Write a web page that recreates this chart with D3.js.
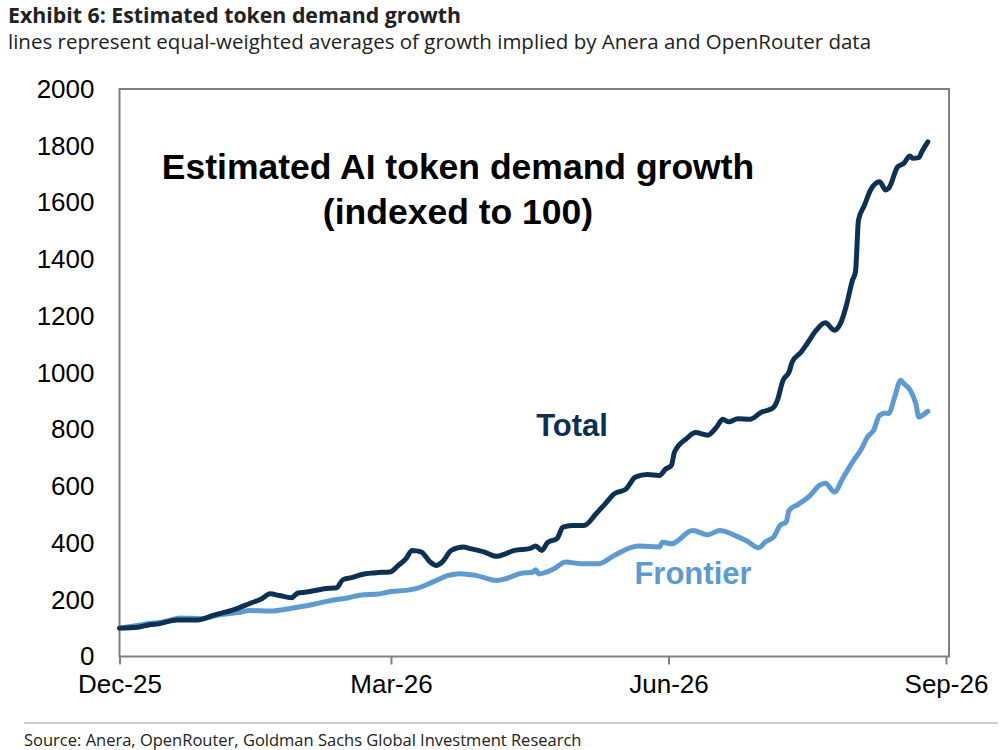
<!DOCTYPE html>
<html>
<head>
<meta charset="utf-8">
<script src="https://cdn.jsdelivr.net/npm/d3@7"></script>
<style>
  html, body { margin: 0; padding: 0; background: #fff; }
  svg { display: block; }
</style>
</head>
<body>
<svg id="chart" width="1008" height="750"></svg>
<script>
// Estimated token demand growth: two indexed lines (Total, Frontier)

const totalDates = [
  "2025-12-01","2025-12-07","2025-12-11","2025-12-14","2025-12-20","2025-12-27",
  "2026-01-01","2026-01-08","2026-01-13","2026-01-17","2026-01-20","2026-01-23","2026-01-27","2026-01-29",
  "2026-02-01","2026-02-07","2026-02-11","2026-02-13","2026-02-16","2026-02-19","2026-02-24",
  "2026-03-01","2026-03-03","2026-03-06","2026-03-08","2026-03-11","2026-03-14","2026-03-16","2026-03-18",
  "2026-03-21","2026-03-25","2026-03-27",
  "2026-04-01","2026-04-05","2026-04-08","2026-04-11","2026-04-16","2026-04-18","2026-04-20","2026-04-22",
  "2026-04-25","2026-04-27","2026-04-30",
  "2026-05-04","2026-05-08","2026-05-11","2026-05-14","2026-05-18","2026-05-21","2026-05-25","2026-05-29","2026-05-31",
  "2026-06-02","2026-06-03","2026-06-07","2026-06-10","2026-06-14","2026-06-17","2026-06-19","2026-06-21",
  "2026-06-24","2026-06-28",
  "2026-07-02","2026-07-04","2026-07-06","2026-07-07","2026-07-09","2026-07-11","2026-07-12","2026-07-15",
  "2026-07-17","2026-07-20","2026-07-23","2026-07-26","2026-07-28","2026-07-30",
  "2026-08-01","2026-08-02","2026-08-03","2026-08-05","2026-08-07","2026-08-10","2026-08-12","2026-08-13",
  "2026-08-16","2026-08-18","2026-08-20","2026-08-21","2026-08-23","2026-08-24","2026-08-26"
];
const totalValues = [
  100, 103, 112, 115, 129, 129,
  145, 165, 186, 203, 221, 215, 207, 223,
  227, 239, 242, 270, 278, 288, 295,
  299, 317, 345, 374, 369, 333, 321, 333,
  374, 386, 381,
  368, 353, 362, 374, 380, 389, 374, 403,
  415, 456, 462,
  462, 503, 538, 573, 591, 632, 641, 638, 660,
  674, 721, 768, 789, 780, 809, 836, 827,
  838, 836,
  862, 868, 880, 900, 974, 1003, 1038, 1073,
  1103, 1150, 1176, 1150, 1173, 1238,
  1326, 1356, 1538, 1591, 1644, 1673, 1644, 1650,
  1726, 1738, 1764, 1756, 1758, 1779, 1814
];

const frontierDates = [
  "2025-12-01","2025-12-09","2025-12-17","2025-12-21","2025-12-28",
  "2026-01-03","2026-01-10","2026-01-13","2026-01-20","2026-01-27",
  "2026-02-03","2026-02-08","2026-02-15","2026-02-20","2026-02-24",
  "2026-03-01","2026-03-06","2026-03-11","2026-03-13","2026-03-16","2026-03-20","2026-03-24","2026-03-29",
  "2026-04-05","2026-04-08","2026-04-13","2026-04-17","2026-04-18","2026-04-19","2026-04-24","2026-04-28",
  "2026-05-03","2026-05-09","2026-05-14","2026-05-22","2026-05-29","2026-05-30",
  "2026-06-02","2026-06-09","2026-06-14","2026-06-18","2026-06-23","2026-06-27",
  "2026-07-01","2026-07-03","2026-07-06","2026-07-08","2026-07-10","2026-07-11","2026-07-14","2026-07-18",
  "2026-07-21","2026-07-23","2026-07-26","2026-07-29",
  "2026-08-01","2026-08-04","2026-08-06","2026-08-08","2026-08-10","2026-08-12","2026-08-13","2026-08-15",
  "2026-08-17","2026-08-18","2026-08-20","2026-08-22","2026-08-23","2026-08-25","2026-08-26"
];
const frontierValues = [
  100, 113, 125, 136, 133,
  147, 156, 162, 160, 170,
  183, 195, 207, 218, 219,
  229, 233, 245, 254, 268, 286, 292, 286,
  268, 274, 293, 297, 306, 291, 309, 333,
  327, 327, 356, 389, 386, 403,
  397, 444, 429, 444, 427, 407,
  383, 403, 423, 462, 474, 515, 536, 568,
  603, 611, 580, 632,
  685, 732, 774, 797, 850, 858, 856, 915,
  974, 962, 941, 891, 844, 856, 864
];

const yTicks = [0, 200, 400, 600, 800, 1000, 1200, 1400, 1600, 1800, 2000];
const xTicks = ["2025-12-01", "2026-03-01", "2026-06-01", "2026-09-01"];

const parse = d3.timeParse("%Y-%m-%d");
const svg = d3.select("#chart");

const x = d3.scaleTime()
  .domain([parse("2025-12-01"), parse("2026-09-02")])
  .range([119.5, 949]);
const y = d3.scaleLinear()
  .domain([0, 2000])
  .range([656.5, 89]);

const totalColor = "#0c3157";
const frontierColor = "#5b9bd5";

// Header
svg.append("text")
  .attr("x", 8).attr("y", 23)
  .attr("font-family", "'Open Sans', sans-serif")
  .attr("font-weight", 700)
  .attr("font-size", 21.3)
  .attr("fill", "#222")
  .text("Exhibit 6: Estimated token demand growth");
svg.append("text")
  .attr("x", 8).attr("y", 49)
  .attr("font-family", "'Open Sans', sans-serif")
  .attr("font-size", 20.5)
  .attr("fill", "#222")
  .text("lines represent equal-weighted averages of growth implied by Anera and OpenRouter data");

// Plot frame
svg.append("rect")
  .attr("x", x.range()[0]).attr("y", y(2000))
  .attr("width", x.range()[1] - x.range()[0])
  .attr("height", y(0) - y(2000))
  .attr("fill", "none")
  .attr("stroke", "#808080")
  .attr("stroke-width", 2);

// Y axis
const yAxis = svg.append("g")
  .attr("transform", `translate(${x.range()[0]},0)`)
  .call(d3.axisLeft(y).tickValues(yTicks).tickSize(0).tickPadding(25).tickFormat(d3.format("d")));
yAxis.select(".domain").remove();
yAxis.selectAll("text")
  .attr("font-family", "'Liberation Sans', Arial, sans-serif")
  .attr("font-size", 26)
  .attr("fill", "#000");

// X axis
const xAxis = svg.append("g")
  .attr("transform", `translate(0,${y(0)})`)
  .call(d3.axisBottom(x)
    .tickValues(xTicks.map(parse))
    .tickSize(8)
    .tickPadding(10)
    .tickFormat(d3.timeFormat("%b-%y")));
xAxis.select(".domain").remove();
xAxis.selectAll("line").attr("stroke", "#808080").attr("stroke-width", 2);
xAxis.selectAll("text")
  .attr("font-family", "'Liberation Sans', Arial, sans-serif")
  .attr("font-size", 26)
  .attr("fill", "#000");

// Lines
const line = d3.line()
  .x(d => x(d[0]))
  .y(d => y(d[1]))
  .curve(d3.curveMonotoneX);

const frontier = frontierDates.map((d, i) => [parse(d), frontierValues[i]]);
const total = totalDates.map((d, i) => [parse(d), totalValues[i]]);

svg.append("path")
  .datum(frontier)
  .attr("fill", "none")
  .attr("stroke", frontierColor)
  .attr("stroke-width", 5)
  .attr("stroke-linejoin", "round")
  .attr("stroke-linecap", "round")
  .attr("d", line);

svg.append("path")
  .datum(total)
  .attr("fill", "none")
  .attr("stroke", totalColor)
  .attr("stroke-width", 5)
  .attr("stroke-linejoin", "round")
  .attr("stroke-linecap", "round")
  .attr("d", line);

// In-chart title
const titleG = svg.append("g")
  .attr("font-family", "'Liberation Sans', Arial, sans-serif")
  .attr("font-weight", 700)
  .attr("font-size", 35.5)
  .attr("fill", "#000")
  .attr("text-anchor", "middle");
titleG.append("text").attr("x", 458).attr("y", 179).text("Estimated AI token demand growth");
titleG.append("text").attr("x", 458).attr("y", 224).text("(indexed to 100)");

// Series labels
svg.append("text")
  .attr("x", 572).attr("y", 436)
  .attr("text-anchor", "middle")
  .attr("font-family", "'Liberation Sans', Arial, sans-serif")
  .attr("font-weight", 700)
  .attr("font-size", 31)
  .attr("fill", totalColor)
  .text("Total");
svg.append("text")
  .attr("x", 693).attr("y", 584)
  .attr("text-anchor", "middle")
  .attr("font-family", "'Liberation Sans', Arial, sans-serif")
  .attr("font-weight", 700)
  .attr("font-size", 31)
  .attr("fill", frontierColor)
  .text("Frontier");

// Footer
svg.append("line")
  .attr("x1", 24).attr("x2", 998)
  .attr("y1", 723).attr("y2", 723)
  .attr("stroke", "#999")
  .attr("stroke-width", 1);
svg.append("text")
  .attr("x", 24).attr("y", 746)
  .attr("font-family", "'Open Sans', sans-serif")
  .attr("font-size", 16.5)
  .attr("fill", "#222")
  .text("Source: Anera, OpenRouter, Goldman Sachs Global Investment Research");
</script>
</body>
</html>
